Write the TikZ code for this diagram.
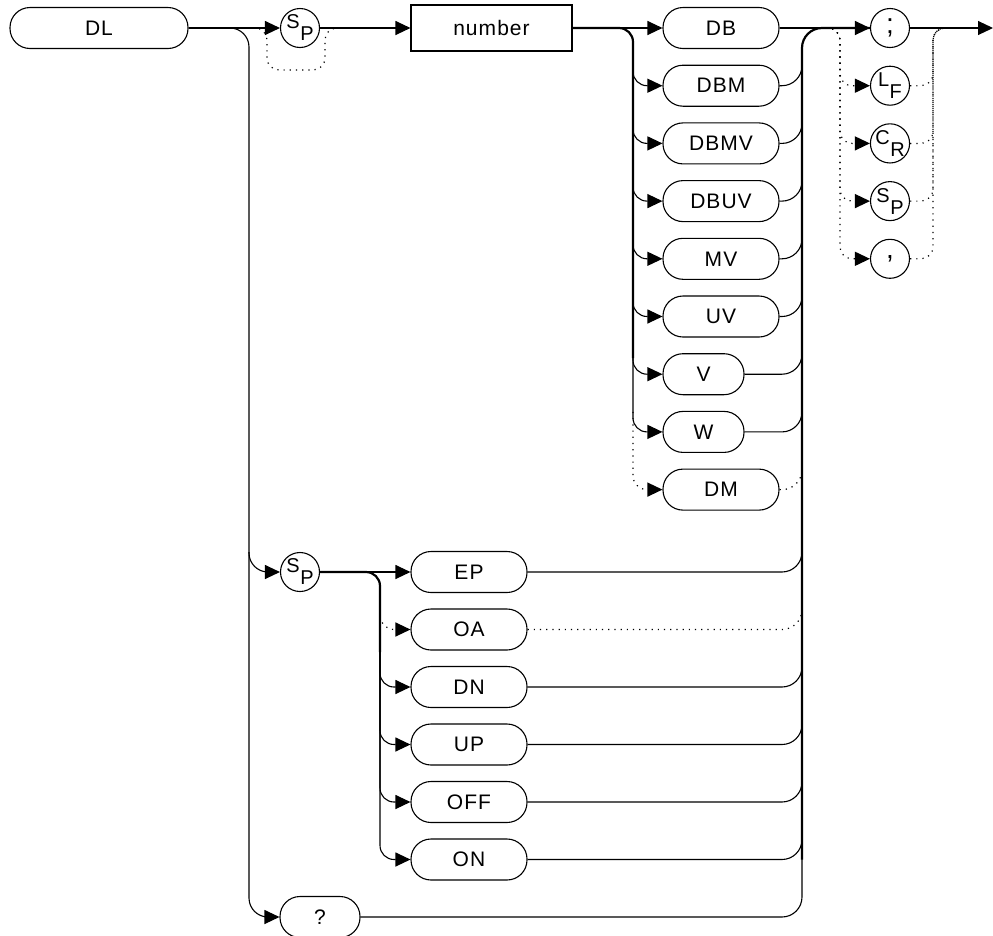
\documentclass[tikz,border=0pt]{standalone}
\usepackage{fontspec}
\setmainfont{Liberation Sans}[LetterSpace=5]
\usetikzlibrary{arrows.meta,calc}
\newcommand\twolet[2]{\raisebox{5pt}{#1}\kern0.5pt\raisebox{-7pt}{#2}}
\begin{document}
\begin{tikzpicture}[x=1pt,y=-1pt,
  arr/.style={-{Triangle[length=15pt,width=14pt]}},
  ln/.style={line width=1.1pt},
  bus/.style={line width=2.2pt},
  dots/.style={line width=1.2pt, dash pattern=on 1.2pt off 5pt},
  lbl/.style={font=\fontsize{21}{22}\selectfont},
  term/.style={draw, line width=1.1pt, rounded corners=20pt, minimum height=41pt,
    minimum width=116pt, inner sep=0pt, lbl},
  circ/.style={draw, circle, line width=1.1pt, minimum size=39pt, inner sep=0pt,
    font=\fontsize{20}{20}\selectfont},
  big/.style={font=\fontsize{28}{28}\selectfont},
  boxn/.style={draw, line width=1.1pt, minimum width=161pt, minimum height=46pt,
    inner sep=0pt, lbl}
]
\useasboundingbox (0,0) rectangle (993,935);

% ---------- nodes ----------
\node[term, minimum width=178pt] (DL) at (99,28) {DL};
\node[circ] (sp1) at (300,28) {\twolet{S}{P}};
\node[boxn] (num) at (491.5,28) {number};

\node[term] (DB)   at (721,28)    {DB};
\node[term] (DBM)  at (721,85.7)  {DBM};
\node[term] (DBMV) at (721,143.4) {DBMV};
\node[term] (DBUV) at (721,201.1) {DBUV};
\node[term] (MV)   at (721,258.8) {MV};
\node[term] (UV)   at (721,316.5) {UV};
\node[term, minimum width=81pt] (V) at (703.5,374.2) {V};
\node[term, minimum width=81pt] (W) at (703.5,431.9) {W};
\node[term] (DM)   at (721,489.6) {DM};

\node[circ, big] (semi)  at (890,28)    {;};
\node[circ] (LF)    at (890,85.7)  {\twolet{L}{F}};
\node[circ] (CR)    at (890,143.4) {\twolet{C}{R}};
\node[circ] (SPo)   at (890,201.1) {\twolet{S}{P}};
\node[circ, big] (comma) at (890,258.8) {,};

\node[circ] (sp2) at (300,572) {\twolet{S}{P}};
\node[term] (EP)  at (469,572)   {EP};
\node[term] (OA)  at (469,629.5) {OA};
\node[term] (DN)  at (469,687)   {DN};
\node[term] (UP)  at (469,744.5) {UP};
\node[term] (OFF) at (469,802)   {OFF};
\node[term] (ON)  at (469,859.5) {ON};
\node[term, minimum width=80pt] (q) at (320,917) {?};

% ---------- junction coordinates ----------
\coordinate (busL) at (249,28);
\coordinate (busA) at (633,28);
\coordinate (busR) at (802,28);
\coordinate (busB) at (380,572);
\coordinate (oLa) at (826,28);
\coordinate (oL)  at (840,28);
\coordinate (oR)  at (933,28);
\coordinate (oRa) at (957,28);
\coordinate (endpt) at (993,28);
\coordinate (b0) at (253,28);
\coordinate (b1) at (267,28);
\coordinate (b2) at (267,70);
\coordinate (b3) at (325,70);
\coordinate (b4) at (325,28);
\coordinate (b5) at (343,28);

% ---------- main line ----------
\draw[ln,arr] (DL) -- (sp1);
\draw[ln,arr] (sp1) -- (num);
\draw[ln,arr] (num) -- (DB);
\draw[ln,arr] (DB) -- (semi);
\draw[ln,arr] (semi) -- (endpt);

% bypass of first SP
\draw[dots, rounded corners=12pt] (b0) -- (b1) -- (b2) -- (b3) -- (b4) -- (b5);

% left trunk from DL
\draw[ln, rounded corners=19pt,arr] (DL.east) -- (busL) |- (sp2.west);
\draw[ln, rounded corners=19pt,arr] ([yshift=20pt]busL |- sp2.west) |- (q.west);

% unit column: left bus
\draw[bus, rounded corners=14pt] (num.east) -- (busA) -- ([yshift=-330pt]busA);
\foreach \X in {DBM,DBMV,DBUV,MV,UV,V,W}
  \draw[ln, rounded corners=14pt,arr] ([yshift=-20pt]busA) |- (\X.west);
\draw[dots, rounded corners=14pt,arr] ([yshift=20pt]busA |- W.west) |- (DM.west);

% unit column: right bus
\foreach \X in {DBM,DBMV,DBUV,MV,UV,V,W,EP,DN,UP,OFF,ON}
  \draw[ln, rounded corners=20pt] (\X.east) -| ([yshift=30pt]busR |- \X.east);
\draw[dots, rounded corners=20pt] (DM.east) -| ([yshift=30pt]busR |- DM.east);
\draw[dots, rounded corners=20pt] (OA.east) -| ([yshift=30pt]busR |- OA.east);
\draw[bus, rounded corners=20pt] (busR |- ON.east) -- (busR) -- (semi.west);
\draw[ln, rounded corners=20pt] (q.east) -| ([yshift=-30pt]busR);

% second SP column
\draw[ln,arr] (sp2) -- (EP);
\draw[bus, rounded corners=14pt] (sp2.east) -- (busB) -- ([yshift=-80pt]busB);
\foreach \X in {DN,UP,OFF,ON}
  \draw[ln, rounded corners=14pt,arr] ([yshift=-20pt]busB) |- (\X.west);
\draw[dots, rounded corners=14pt,arr] ([yshift=-20pt]busB) |- (OA.west);

% terminators
\foreach \X in {LF,CR,SPo,comma}{
  \draw[dots, rounded corners=12pt,arr] (oLa) -- (oL) |- (\X.west);
  \draw[dots, rounded corners=12pt] (\X.east) -| (oR) -- (oRa);
}
\end{tikzpicture}
\end{document}
